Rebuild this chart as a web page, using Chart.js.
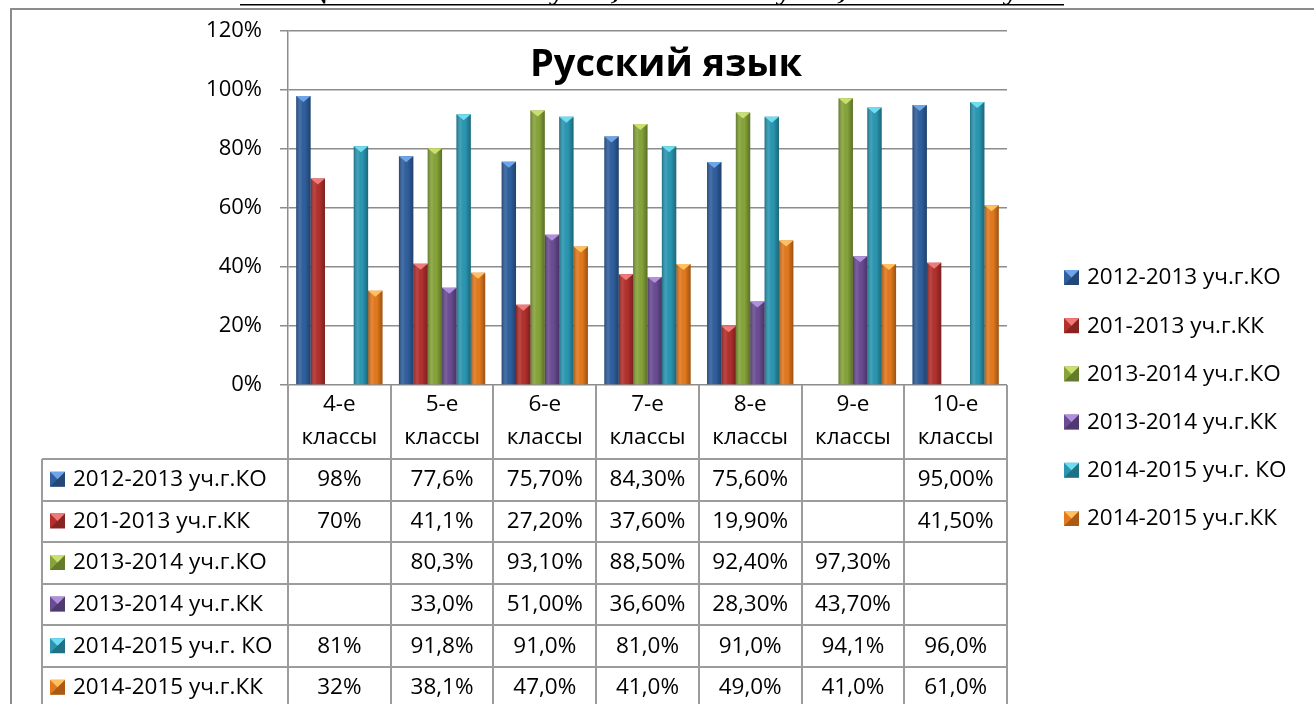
<!DOCTYPE html>
<html>
<head>
<meta charset="utf-8">
<script src="https://cdn.jsdelivr.net/npm/chart.js@4/dist/chart.umd.min.js"></script>
<style>
  html, body { margin: 0; padding: 0; background: #fff; overflow: hidden; }
  #wrap { position: relative; width: 1314px; height: 704px; }
</style>
</head>
<body>
<div id="wrap"><canvas id="chart" width="1314" height="704"></canvas></div>
<script>
// categories (two-line labels like in the table header)
const classes = [
    ['4-е', 'классы'], ['5-е', 'классы'], ['6-е', 'классы'], ['7-е', 'классы'],
    ['8-е', 'классы'], ['9-е', 'классы'], ['10-е', 'классы']
];
const seriesNames = [
    '2012-2013 уч.г.КО', '201-2013 уч.г.КК', '2013-2014 уч.г.КО',
    '2013-2014 уч.г.КК', '2014-2015 уч.г. КО', '2014-2015 уч.г.КК'
];

// values in percent
const ko2012 = [98, 77.6, 75.7, 84.3, 75.6, null, 95.0];
const kk2012 = [70, 41.1, 27.2, 37.6, 19.9, null, 41.5];
const ko2013 = [null, 80.3, 93.1, 88.5, 92.4, 97.3, null];
const kk2013 = [null, 33.0, 51.0, 36.6, 28.3, 43.7, null];
const ko2014 = [81, 91.8, 91.0, 81.0, 91.0, 94.1, 96.0];
const kk2014 = [32, 38.1, 47.0, 41.0, 49.0, 41.0, 61.0];

// texts as printed in the data table
const ko2012Text = ['98%', '77,6%', '75,70%', '84,30%', '75,60%', '', '95,00%'];
const kk2012Text = ['70%', '41,1%', '27,20%', '37,60%', '19,90%', '', '41,50%'];
const ko2013Text = ['', '80,3%', '93,10%', '88,50%', '92,40%', '97,30%', ''];
const kk2013Text = ['', '33,0%', '51,00%', '36,60%', '28,30%', '43,70%', ''];
const ko2014Text = ['81%', '91,8%', '91,0%', '81,0%', '91,0%', '94,1%', '96,0%'];
const kk2014Text = ['32%', '38,1%', '47,0%', '41,0%', '49,0%', '41,0%', '61,0%'];

const yTicks = [0, 20, 40, 60, 80, 100, 120];

const colors = ['#2f5f9e', '#b3302d', '#86a43a', '#6a4c93', '#2a97b2', '#e3791d'];
const capColors = ['#6ea5e8', '#f07a78', '#c9e06e', '#b090dc', '#6fdcf0', '#ffc060'];

const FONT = '"Open Sans", "Noto Sans", sans-serif';
const LINE = '#9c9c9c';

const allValues = [ko2012, kk2012, ko2013, kk2013, ko2014, kk2014];
const allTexts = [ko2012Text, kk2012Text, ko2013Text, kk2013Text, ko2014Text, kk2014Text];

function drawMarker(ctx, x, y, s, i) {
    ctx.fillStyle = colors[i];
    ctx.fillRect(x, y, s, s);
    // little pyramid look
    ctx.fillStyle = 'rgba(0,0,0,0.25)';
    ctx.beginPath(); ctx.moveTo(x + s, y); ctx.lineTo(x + s, y + s); ctx.lineTo(x + s / 2, y + s / 2); ctx.fill();
    ctx.beginPath(); ctx.moveTo(x, y + s); ctx.lineTo(x + s, y + s); ctx.lineTo(x + s / 2, y + s / 2); ctx.fill();
    ctx.fillStyle = capColors[i];
    ctx.beginPath(); ctx.moveTo(x, y); ctx.lineTo(x + s, y); ctx.lineTo(x + s / 2, y + s / 2); ctx.fill();
}

const extras = {
    id: 'extras',
    beforeDraw(chart) {
        const ctx = chart.ctx;
        ctx.save();
        // outer frame
        ctx.strokeStyle = '#8c8c8c';
        ctx.lineWidth = 2;
        ctx.strokeRect(11, 9, 1400, 800);
        // clipped heading line above the frame
        ctx.fillStyle = '#000';
        ctx.font = 'bold 20px "Liberation Serif", serif';
        const head = 'Учащихся 2012-2013 уч.г., 2013-2014 уч.г., 2014-2015 уч.г.';
        const w = ctx.measureText(head).width;
        ctx.translate(240, 0);
        ctx.scale(824 / w, 1);
        ctx.textBaseline = 'alphabetic';
        ctx.fillText(head, 0, 0);
        ctx.restore();
        ctx.save();
        ctx.fillStyle = '#000';
        ctx.fillRect(240, 4, 824, 1.5);
        ctx.restore();
    },
    afterDatasetsDraw(chart) {
        const ctx = chart.ctx;
        ctx.save();
        chart.data.datasets.forEach((ds, i) => {
            const meta = chart.getDatasetMeta(i);
            meta.data.forEach((el, j) => {
                if (ds.data[j] == null) return;
                const p = el.getProps(['x', 'y', 'base', 'width'], true);
                const l = p.x - p.width / 2;
                const g = ctx.createLinearGradient(l, 0, l + p.width, 0);
                g.addColorStop(0, 'rgba(0,0,0,0.28)');
                g.addColorStop(0.3, 'rgba(255,255,255,0.10)');
                g.addColorStop(0.6, 'rgba(0,0,0,0)');
                g.addColorStop(1, 'rgba(0,0,0,0.32)');
                ctx.fillStyle = g;
                ctx.fillRect(l, p.y, p.width, p.base - p.y);
                ctx.fillStyle = capColors[i];
                ctx.beginPath();
                ctx.moveTo(l, p.y);
                ctx.lineTo(l + p.width, p.y);
                ctx.lineTo(p.x, p.y + 6);
                ctx.closePath();
                ctx.fill();
            });
        });
        ctx.restore();
    },
    afterDraw(chart) {
        const ctx = chart.ctx;
        const area = chart.chartArea;
        const xs = chart.scales.x;
        const n = classes.length;
        const cw = (area.right - area.left) / n;
        const headBottom = 459;
        const rowH = 41.6;
        const tableLeft = 42;
        ctx.save();

        // title
        ctx.fillStyle = '#000';
        ctx.font = 'bold 38px ' + FONT;
        ctx.textAlign = 'center';
        ctx.textBaseline = 'alphabetic';
        ctx.fillText('Русский язык', 666, 76);

        // table grid
        ctx.strokeStyle = LINE;
        ctx.lineWidth = 2;
        ctx.beginPath();
        for (let k = 0; k <= n; k++) {
            const x = Math.round(area.left + k * cw);
            ctx.moveTo(x, area.bottom);
            ctx.lineTo(x, 704);
        }
        ctx.moveTo(tableLeft, headBottom);
        ctx.lineTo(tableLeft, 704);
        for (let r = 0; r <= seriesNames.length; r++) {
            const y = Math.round(headBottom + r * rowH);
            ctx.moveTo(tableLeft, y);
            ctx.lineTo(area.right, y);
        }
        ctx.stroke();

        // header labels
        ctx.fillStyle = '#000';
        ctx.font = '22.5px ' + FONT;
        ctx.textAlign = 'center';
        ctx.textBaseline = 'middle';
        classes.forEach((lab, j) => {
            const cx = xs.getPixelForValue(j);
            ctx.fillText(lab[0], cx, 405);
            ctx.fillText(lab[1], cx, 438);
        });

        // rows
        seriesNames.forEach((name, i) => {
            const cy = headBottom + i * rowH + rowH / 2;
            drawMarker(ctx, 50, cy - 8, 15, i);
            ctx.fillStyle = '#000';
            ctx.textAlign = 'left';
            ctx.fillText(name, 73, cy);
            ctx.textAlign = 'center';
            allTexts[i].forEach((t, j) => {
                if (t) ctx.fillText(t, xs.getPixelForValue(j), cy);
            });
        });

        // legend on the right
        seriesNames.forEach((name, i) => {
            const cy = 278 + i * 48.2;
            drawMarker(ctx, 1064, cy - 8, 15, i);
            ctx.fillStyle = '#000';
            ctx.textAlign = 'left';
            ctx.fillText(name, 1087, cy);
        });
        ctx.restore();
    }
};

const chart = new Chart(document.getElementById('chart').getContext('2d'), {
    type: 'bar',
    data: {
        labels: classes,
        datasets: seriesNames.map((name, i) => ({
            label: name,
            data: allValues[i],
            backgroundColor: colors[i],
            borderWidth: 0,
            categoryPercentage: 0.84,
            barPercentage: 1.0
        }))
    },
    options: {
        responsive: false,
        animation: false,
        layout: { padding: { left: 0, top: 25, right: 307, bottom: 319 } },
        plugins: {
            legend: { display: false },
            tooltip: { enabled: false }
        },
        scales: {
            x: { display: false },
            y: {
                min: 0,
                max: 120,
                afterFit(scale) { scale.width = 288; },
                afterBuildTicks(scale) { scale.ticks = yTicks.map(v => ({ value: v })); },
                ticks: {
                    callback: v => v + '%',
                    color: '#000',
                    padding: 18,
                    font: { family: FONT, size: 22 }
                },
                grid: { color: '#8c8c8c', lineWidth: 1.5, tickLength: 8, drawTicks: true },
                border: { display: true, color: '#8c8c8c', width: 1.5 }
            }
        }
    },
    plugins: [extras]
});
</script>
</body>
</html>
